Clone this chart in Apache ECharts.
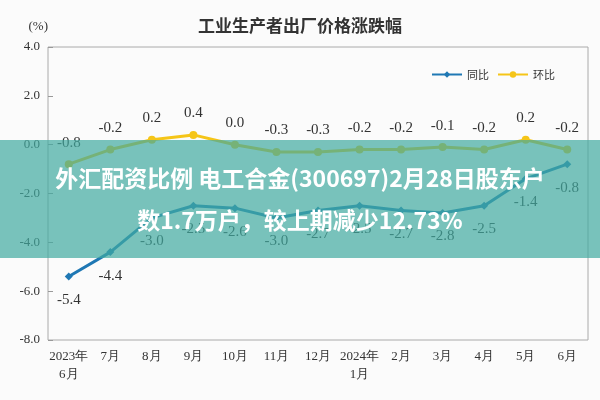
<!DOCTYPE html>
<html>
<head>
<meta charset="utf-8">
<script src="https://cdn.jsdelivr.net/npm/echarts@6/dist/echarts.min.js"></script>
<style>html,body{margin:0;padding:0;background:#fff;}#main{width:600px;height:400px;}</style>
</head>
<body>
<div id="main"></div>
<script>
var months = ['2023年\n6月', '7月', '8月', '9月', '10月', '11月', '12月', '2024年\n1月', '2月', '3月', '4月', '5月', '6月'];
var yoy = [-5.4, -4.4, -3.0, -2.5, -2.6, -3.0, -2.7, -2.5, -2.7, -2.8, -2.5, -1.4, -0.8];
var mom = [-0.8, -0.2, 0.2, 0.4, 0.0, -0.3, -0.3, -0.2, -0.2, -0.1, -0.2, 0.2, -0.2];

var serif = 'Liberation Serif';
var chart = echarts.init(document.getElementById('main'));
chart.setOption({
    backgroundColor: '#fbfbfb',
    animation: false,
    title: {
        text: '工业生产者出厂价格涨跌幅',
        left: 'center',
        top: 12,
        textStyle: {fontFamily: 'Noto Sans CJK SC', fontSize: 17, fontWeight: 'bold', color: '#333'}
    },
    legend: {
        top: 64,
        right: 40,
        itemWidth: 30,
        itemHeight: 8,
        textStyle: {fontFamily: 'Noto Sans CJK SC', fontSize: 11, color: '#333'},
        data: ['同比', '环比']
    },
    grid: {left: 48, right: 12, top: 47, bottom: 60, show: true, borderColor: '#aaa', borderWidth: 1},
    xAxis: {
        type: 'category',
        data: months,
        boundaryGap: true,
        axisLine: {show: false},
        axisTick: {show: false},
        axisLabel: {interval: 0, fontFamily: serif, fontSize: 13, color: '#333', lineHeight: 18}
    },
    yAxis: {
        type: 'value',
        name: '(%)',
        nameLocation: 'end',
        nameGap: 14,
        nameTextStyle: {fontFamily: serif, fontSize: 13, color: '#333', align: 'right'},
        min: -8, max: 4, interval: 2,
        axisLine: {show: false},
        axisTick: {show: true, inside: true, length: 5, lineStyle: {color: '#999'}},
        splitLine: {show: false},
        axisLabel: {fontFamily: serif, fontSize: 13, color: '#333', formatter: function (v) { return v.toFixed(1); }}
    },
    series: [{
        name: '同比',
        type: 'line',
        data: yoy,
        symbol: 'diamond',
        symbolSize: 8,
        lineStyle: {color: '#1f78b4', width: 3},
        itemStyle: {color: '#1f78b4'},
        label: {show: true, position: 'bottom', distance: 12, fontFamily: serif, fontSize: 15, color: '#333',
            formatter: function (p) { return p.value.toFixed(1); }}
    }, {
        name: '环比',
        type: 'line',
        data: mom,
        symbol: 'circle',
        symbolSize: 8,
        lineStyle: {color: '#f5c518', width: 3},
        itemStyle: {color: '#f5c518'},
        label: {show: true, position: 'top', distance: 10, fontFamily: serif, fontSize: 15, color: '#333',
            formatter: function (p) { return p.value.toFixed(1); }}
    }],
    graphic: [{
        type: 'rect',
        shape: {x: 0, y: 140, width: 600, height: 118},
        style: {fill: 'rgba(64,170,160,0.7)'},
        z: 100
    }, {
        type: 'text',
        x: 300, y: 199,
        style: {
            text: '外汇配资比例 电工合金(300697)2月28日股东户\n数1.7万户，较上期减少12.73%',
            fill: '#fff', font: 'bold 23px "Noto Sans CJK SC"',
            align: 'center', verticalAlign: 'middle', lineHeight: 42
        },
        z: 101
    }]
});
</script>
</body>
</html>
